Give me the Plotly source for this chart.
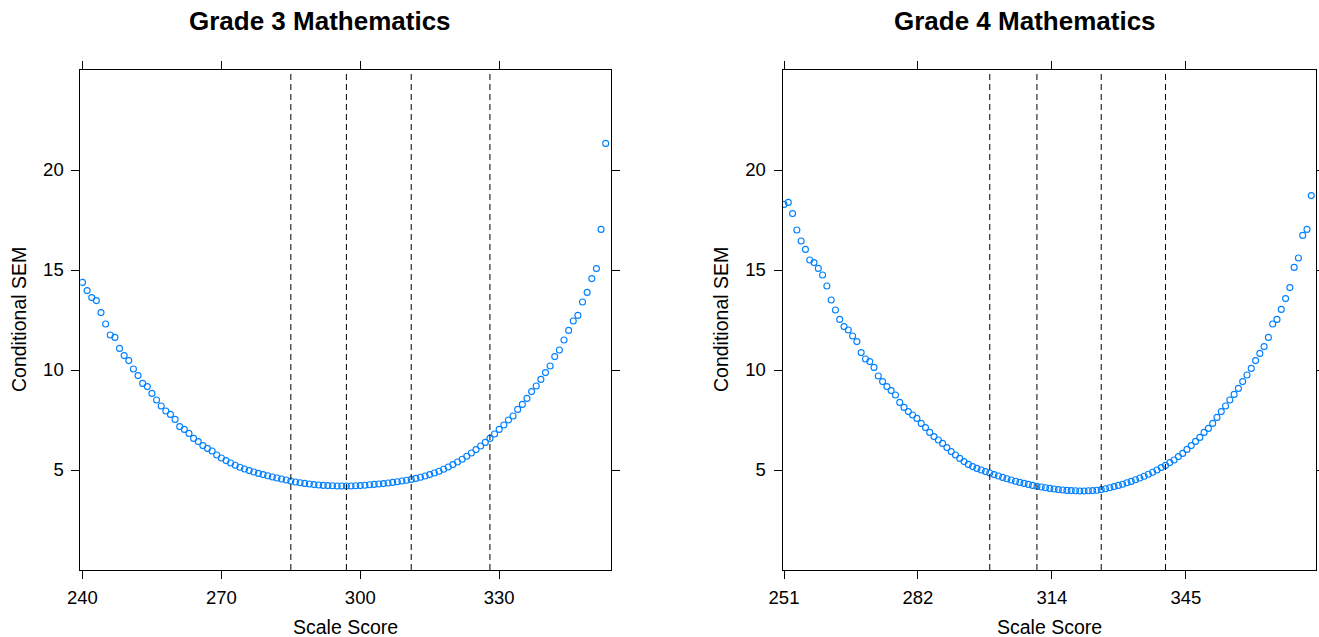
import plotly.graph_objects as go

# ---------------- data ----------------
g3_scores = list(range(240, 354))
g3_sem = [14.38, 13.97, 13.62, 13.47, 12.87, 12.30, 11.75, 11.63, 11.08, 10.72,
          10.47, 10.05, 9.72, 9.33, 9.17, 8.83, 8.50, 8.20, 7.95, 7.78,
          7.53, 7.17, 7.03, 6.83, 6.58, 6.42, 6.22, 6.08, 5.95, 5.75,
          5.60, 5.47, 5.35, 5.24, 5.14, 5.05, 4.97, 4.90, 4.83, 4.77,
          4.71, 4.65, 4.60, 4.55, 4.50, 4.45, 4.40, 4.36, 4.33, 4.30,
          4.27, 4.25, 4.23, 4.22, 4.21, 4.20, 4.20, 4.20, 4.20, 4.21,
          4.22, 4.24, 4.26, 4.28, 4.30, 4.32, 4.35, 4.38, 4.41, 4.45,
          4.49, 4.53, 4.58, 4.64, 4.70, 4.77, 4.85, 4.94, 5.04, 5.15,
          5.27, 5.40, 5.54, 5.69, 5.85, 6.02, 6.20, 6.38, 6.58, 6.80,
          7.03, 7.25, 7.50, 7.70, 8.03, 8.28, 8.58, 8.92, 9.20, 9.53,
          9.87, 10.20, 10.67, 11.00, 11.50, 11.98, 12.45, 12.73, 13.40, 13.88,
          14.57, 15.07, 17.03, 21.33]
g3_cuts = [285, 297, 311, 328]
g3_tickvals = [240, 270, 300, 330]
g3_ticktext = ["240", "270", "300", "330"]

g4_scores = list(range(251, 375))
g4_sem = [18.28, 18.38, 17.82, 17.00, 16.45, 16.03, 15.50, 15.37, 15.08, 14.75,
          14.20, 13.50, 13.00, 12.53, 12.17, 12.00, 11.70, 11.42, 10.87, 10.55,
          10.42, 10.13, 9.70, 9.42, 9.17, 8.97, 8.75, 8.38, 8.13, 7.92,
          7.75, 7.58, 7.33, 7.12, 6.88, 6.67, 6.50, 6.33, 6.12, 5.92,
          5.75, 5.58, 5.42, 5.28, 5.17, 5.08, 5.00, 4.92, 4.85, 4.77,
          4.70, 4.63, 4.56, 4.50, 4.44, 4.38, 4.33, 4.28, 4.23, 4.19,
          4.15, 4.11, 4.08, 4.05, 4.02, 4.00, 3.98, 3.97, 3.96, 3.95,
          3.95, 3.96, 3.97, 3.99, 4.02, 4.06, 4.11, 4.17, 4.23, 4.29,
          4.36, 4.43, 4.51, 4.60, 4.69, 4.79, 4.89, 5.00, 5.12, 5.23,
          5.37, 5.50, 5.67, 5.83, 6.03, 6.22, 6.43, 6.63, 6.88, 7.08,
          7.33, 7.63, 7.92, 8.20, 8.50, 8.78, 9.08, 9.42, 9.75, 10.08,
          10.47, 10.83, 11.17, 11.63, 12.30, 12.53, 13.03, 13.57, 14.12, 15.13,
          15.60, 16.73, 17.03, 18.72]
g4_cuts = [299, 310, 325, 340]
g4_tickvals = [251, 282.25, 313.5, 344.75]
g4_ticktext = ["251", "282", "314", "345"]

y_tickvals = [5, 10, 15, 20]
titles = ["Grade 3 Mathematics", "Grade 4 Mathematics"]

# ---------------- figure ----------------
W, H = 1319, 637
FONT = "Liberation Sans, Arial, sans-serif"
PT = "#0080ff"

fig = go.Figure()
fig.add_trace(go.Scatter(x=g3_scores, y=g3_sem, mode="markers", xaxis="x", yaxis="y",
                         marker=dict(symbol="circle-open", size=6, color=PT,
                                     line=dict(width=1.1, color=PT)),
                         hoverinfo="x+y"))
fig.add_trace(go.Scatter(x=g4_scores, y=g4_sem, mode="markers", xaxis="x2", yaxis="y2",
                         marker=dict(symbol="circle-open", size=6, color=PT,
                                     line=dict(width=1.1, color=PT)),
                         hoverinfo="x+y"))

def px_x(p):
    return p / W

def px_y(p):
    return 1 - p / H

ydom = [px_y(570), px_y(70)]
common = dict(showline=True, linecolor="black", linewidth=1, mirror="ticks",
              ticks="outside", ticklen=8, tickwidth=1, tickcolor="black",
              showgrid=False, zeroline=False, automargin=False,
              tickfont=dict(family=FONT, size=18.5, color="black"))

fig.update_layout(
    width=W, height=H,
    margin=dict(l=0, r=0, t=0, b=0, pad=0, autoexpand=False),
    paper_bgcolor="white", plot_bgcolor="white",
    showlegend=False,
    xaxis=dict(domain=[px_x(80.4), px_x(611)], range=[239.55, 354.15],
               tickvals=g3_tickvals, ticktext=g3_ticktext, anchor="y",
               ticklabelstandoff=3, **common),
    yaxis=dict(domain=ydom, range=[0, 25], tickvals=y_tickvals, anchor="x",
               ticklabelstandoff=4, **common),
    xaxis2=dict(domain=[px_x(782.5), px_x(1316)], range=[250.65, 375.1],
                tickvals=g4_tickvals, ticktext=g4_ticktext, anchor="y2",
                ticklabelstandoff=3, **common),
    yaxis2=dict(domain=ydom, range=[0, 25], tickvals=y_tickvals, anchor="x2",
                ticklabelstandoff=4, **common),
)

shapes = []
for c in g3_cuts:
    shapes.append(dict(type="line", xref="x", yref="y domain", x0=c, x1=c, y0=0, y1=1,
                       line=dict(color="black", width=1, dash="6px,4px")))
for c in g4_cuts:
    shapes.append(dict(type="line", xref="x2", yref="y2 domain", x0=c, x1=c, y0=0, y1=1,
                       line=dict(color="black", width=1, dash="6px,4px")))
fig.update_layout(shapes=shapes)

ann = []
base = dict(xref="paper", yref="paper", showarrow=False, xanchor="center", yanchor="middle")
# titles
ann.append(dict(text="<b>%s</b>" % titles[0], x=px_x(320), y=px_y(21),
                font=dict(family=FONT, size=26, color="black"), **base))
ann.append(dict(text="<b>%s</b>" % titles[1], x=px_x(1025), y=px_y(21),
                font=dict(family=FONT, size=26, color="black"), **base))
# axis titles
for cx in (345.7, 1049):
    ann.append(dict(text="Scale Score", x=px_x(cx), y=px_y(627),
                    font=dict(family=FONT, size=19.5, color="black"), **base))
for cx in (19, 721):
    ann.append(dict(text="Conditional SEM", x=px_x(cx), y=px_y(320), textangle=-90,
                    font=dict(family=FONT, size=19.5, color="black"), **base))
fig.update_layout(annotations=ann)

fig.write_html("out.html")
